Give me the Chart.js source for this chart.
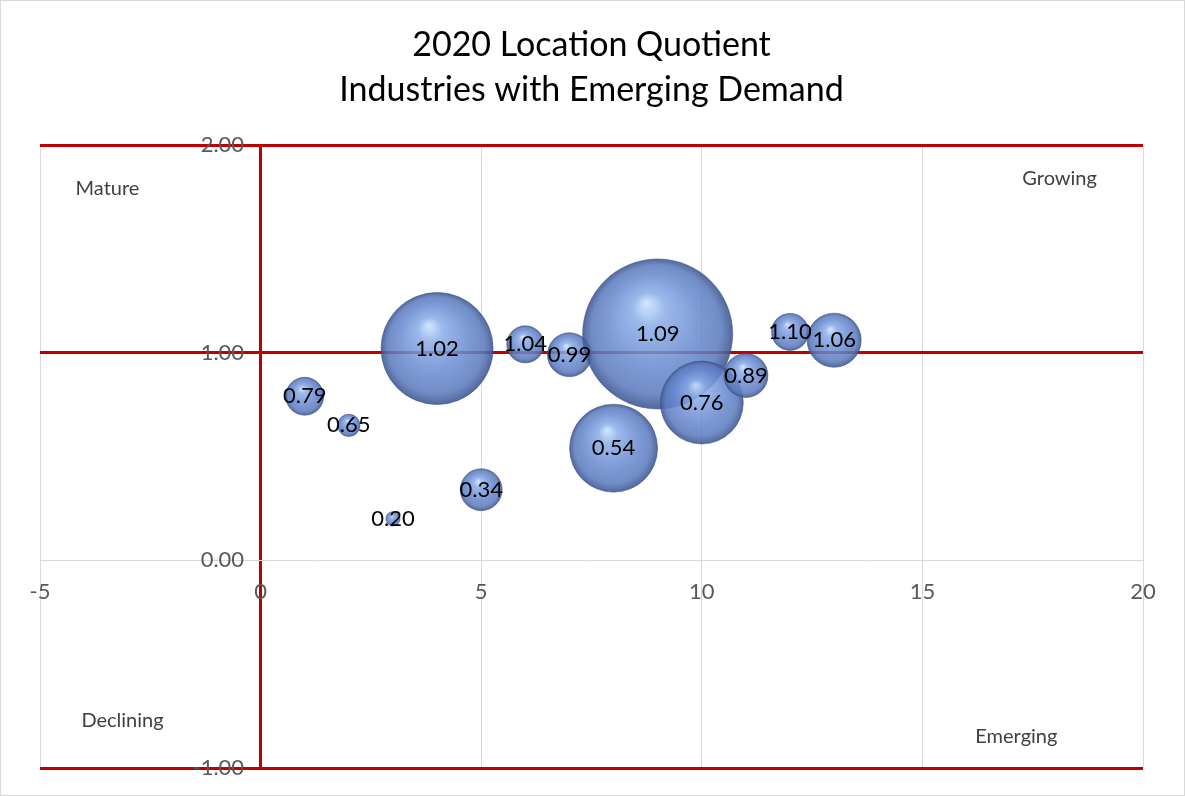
<!DOCTYPE html>
<html>
<head>
<meta charset="utf-8">
<title>2020 Location Quotient</title>
<script src="https://cdn.jsdelivr.net/npm/chart.js@4/dist/chart.umd.min.js"></script>
<style>
  html, body { margin: 0; padding: 0; background: #fff; }
  #contenedor { width: 1185px; height: 796px; }
</style>
</head>
<body>
<div id="contenedor"><canvas id="miGrafico"></canvas></div>
<script>
// Industrias numeradas (eje X) y su cociente de localización 2020 (eje Y)
const industrias = [1, 2, 3, 4, 5, 6, 7, 8, 9, 10, 11, 12, 13];
const cocientes = [0.79, 0.65, 0.20, 1.02, 0.34, 1.04, 0.99, 0.54, 1.09, 0.76, 0.89, 1.10, 1.06];
// Tamaño relativo de cada burbuja (el mayor = 100)
const tamanos = [6.4, 2.2, 0.9, 55.8, 7.8, 6.1, 8.6, 34.4, 100, 30.6, 8.6, 6.1, 13.0];

// Etiquetas de los cuadrantes, en coordenadas del gráfico
const cuadrantes = ['Mature', 'Growing', 'Declining', 'Emerging'];
const cuadrantesX = [-3.47, 18.11, -3.13, 17.13];
const cuadrantesY = [1.79, 1.84, -0.77, -0.85];

// Marcas de los ejes
const ticksX = [-5, 0, 5, 10, 15, 20];
const ticksY = [-1, 0, 1, 2];

const rojo = '#c00000';
const gris = '#d9d9d9';
const fuente = 'Lato, "Open Sans", sans-serif';

// Radio máximo en píxeles para la burbuja más grande
const radioMax = 75;

let burbujas = industrias.map((x, i) => ({
    x: x,
    y: cocientes[i],
    r: radioMax * Math.sqrt(tamanos[i] / 100)
}));

let etiquetasCuadrante = cuadrantes.map((t, i) => ({ x: cuadrantesX[i], y: cuadrantesY[i], texto: t }));

// Relleno tipo esfera: degradado radial con brillo arriba a la izquierda
function esfera(c) {
    let chart = c.chart;
    if (!chart.chartArea || !c.parsed) return 'rgba(100,135,205,0.85)';
    let cx = chart.scales.x.getPixelForValue(c.parsed.x);
    let cy = chart.scales.y.getPixelForValue(c.parsed.y);
    let r = c.raw.r;
    let g = chart.ctx.createRadialGradient(cx - 0.15 * r, cy - 0.42 * r, 0, cx, cy, r);
    g.addColorStop(0, 'rgba(205,230,255,0.88)');
    g.addColorStop(0.22, 'rgba(138,172,232,0.85)');
    g.addColorStop(0.6, 'rgba(104,138,208,0.85)');
    g.addColorStop(0.86, 'rgba(90,121,188,0.86)');
    g.addColorStop(1, 'rgba(64,88,145,0.9)');
    return g;
}

// Fondo blanco y marco gris del gráfico
const marco = {
    id: 'marco',
    beforeDraw(chart) {
        let c = chart.ctx;
        c.save();
        c.fillStyle = '#fff';
        c.fillRect(0, 0, chart.width, chart.height);
        c.strokeStyle = gris;
        c.lineWidth = 1;
        c.strokeRect(0.5, 0.5, chart.width - 1, chart.height - 1);
        c.restore();
    }
};

// Etiquetas de valor en el centro de cada burbuja y nombres de cuadrantes
const etiquetas = {
    id: 'etiquetas',
    afterDatasetsDraw(chart) {
        let c = chart.ctx;
        c.save();
        c.textAlign = 'center';
        c.textBaseline = 'middle';
        chart.getDatasetMeta(0).data.forEach((el, i) => {
            c.font = '22px ' + fuente;
            c.fillStyle = '#000';
            c.fillText(cocientes[i].toFixed(2), el.x, el.y);
        });
        chart.getDatasetMeta(1).data.forEach((el, i) => {
            c.font = '20px ' + fuente;
            c.fillStyle = '#404040';
            c.fillText(etiquetasCuadrante[i].texto, el.x, el.y);
        });
        c.restore();
    }
};

let ctx = document.getElementById('miGrafico').getContext('2d');

let config = {
    type: 'bubble',
    data: {
        datasets: [{
            label: 'Location Quotient',
            data: burbujas,
            backgroundColor: esfera,
            borderColor: 'rgba(60,84,135,0.55)',
            borderWidth: 1
        }, {
            label: 'Cuadrantes',
            data: etiquetasCuadrante.map(p => ({ x: p.x, y: p.y, r: 0 })),
            backgroundColor: 'rgba(0,0,0,0)',
            borderWidth: 0
        }]
    },
    options: {
        responsive: true,
        maintainAspectRatio: false,
        animation: false,
        // sin relleno automático: las burbujas grandes no deben encoger el área
        layout: { autoPadding: false, padding: { left: 40, right: 42, top: 0, bottom: 28 } },
        plugins: {
            legend: { display: false },
            tooltip: { enabled: false },
            title: {
                display: true,
                text: ['2020 Location Quotient', 'Industries with Emerging Demand'],
                color: '#000',
                font: { family: fuente, size: 34, weight: 'normal', lineHeight: 45 / 34 },
                padding: { top: 22.5, bottom: 32.5 }
            }
        },
        scales: {
            x: {
                type: 'linear',
                min: -5,
                max: 20,
                position: { y: 0 },
                afterBuildTicks: s => { s.ticks = ticksX.map(v => ({ value: v })); },
                // el eje cruza en y = 0, no debe quitar espacio al área del gráfico
                afterFit: s => { s.height = 0; },
                ticks: {
                    autoSkip: false,
                    maxRotation: 0,
                    padding: 18,
                    color: '#595959',
                    font: { family: fuente, size: 22 }
                },
                grid: {
                    drawTicks: false,
                    color: c => c.tick && c.tick.value === 0 ? rojo : gris,
                    lineWidth: c => c.tick && c.tick.value === 0 ? 3 : 1
                },
                border: { display: false }
            },
            y: {
                type: 'linear',
                min: -1,
                max: 2,
                position: { x: 0 },
                afterBuildTicks: s => { s.ticks = ticksY.map(v => ({ value: v })); },
                afterFit: s => { s.width = 0; },
                ticks: {
                    autoSkip: false,
                    color: '#595959',
                    font: { family: fuente, size: 22 },
                    // espacio eme al final para separar la etiqueta del eje
                    callback: v => v.toFixed(2) + '\u2003'
                },
                grid: {
                    drawTicks: false,
                    color: c => c.tick && c.tick.value !== 0 ? rojo : gris,
                    lineWidth: c => c.tick && c.tick.value !== 0 ? 3 : 1
                },
                border: { display: false }
            }
        }
    },
    plugins: [marco, etiquetas]
};

new Chart(ctx, config);
</script>
</body>
</html>
